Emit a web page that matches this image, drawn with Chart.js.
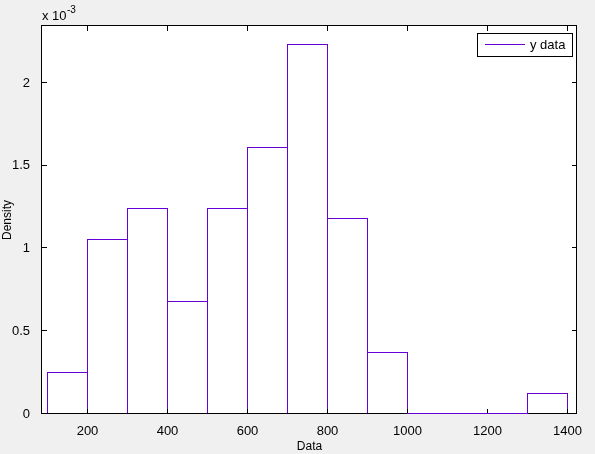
<!DOCTYPE html>
<html>
<head>
<meta charset="utf-8">
<script src="https://cdn.jsdelivr.net/npm/chart.js@4/dist/chart.umd.min.js"></script>
<style>
  html, body { margin: 0; padding: 0; background: #f0f0f0; }
  #wrap { width: 595px; height: 454px; }
</style>
</head>
<body>
<div id="wrap"><canvas id="hist" width="595" height="454"></canvas></div>
<script>
// bin centres and density (x 10^-3)
const binCenters = [150, 250, 350, 450, 550, 650, 750, 850, 950, 1050, 1150, 1250, 1350];
const density = [0.254, 1.057, 1.245, 0.683, 1.245, 1.613, 2.236, 1.184, 0.375, 0, 0, 0, 0.127];
const xTicks = [200, 400, 600, 800, 1000, 1200, 1400];
const yTicks = [0, 0.5, 1, 1.5, 2];
const seriesName = 'y data';

const purple = '#6600d4';
const font = "'Liberation Sans', Arial, sans-serif";

const frame = {
  id: 'frame',
  beforeDraw(chart) {
    const { ctx, chartArea: a } = chart;
    ctx.save();
    ctx.fillStyle = '#f0f0f0';
    ctx.fillRect(0, 0, chart.width, chart.height);
    ctx.fillStyle = '#ffffff';
    ctx.fillRect(a.left, a.top, a.right - a.left, a.bottom - a.top);
    ctx.restore();
  },
  afterDatasetsDraw(chart) {
    const { ctx, chartArea: a, scales } = chart;
    ctx.save();
    ctx.strokeStyle = '#000';
    ctx.lineWidth = 1;
    ctx.beginPath();
    for (const v of xTicks) {
      const x = Math.floor(scales.x.getPixelForValue(v)) + 0.5;
      ctx.moveTo(x, a.bottom); ctx.lineTo(x, a.bottom - 5);
      ctx.moveTo(x, a.top); ctx.lineTo(x, a.top + 5);
    }
    for (const v of yTicks) {
      const y = Math.round(scales.y.getPixelForValue(v)) - 0.5;
      ctx.moveTo(a.left, y); ctx.lineTo(a.left + 5, y);
      ctx.moveTo(a.right, y); ctx.lineTo(a.right - 5, y);
    }
    ctx.stroke();
    ctx.strokeRect(a.left - 0.5, a.top - 0.5, a.right - a.left, a.bottom - a.top);

    // empty bins show as a flat line on the baseline
    const meta = chart.getDatasetMeta(0);
    ctx.strokeStyle = purple;
    ctx.beginPath();
    meta.data.forEach((bar, i) => {
      if (density[i] === 0) {
        const y = Math.round(bar.base) - 0.5;
        ctx.moveTo(bar.x - bar.width / 2, y);
        ctx.lineTo(bar.x + bar.width / 2, y);
      }
    });
    ctx.stroke();

    // legend box
    const lx = 477, ly = 33, lw = 95, lh = 23;
    ctx.fillStyle = '#fff';
    ctx.fillRect(lx, ly, lw, lh);
    ctx.strokeStyle = '#000';
    ctx.strokeRect(lx + 0.5, ly + 0.5, lw, lh);
    ctx.strokeStyle = purple;
    ctx.beginPath();
    ctx.moveTo(485, ly + 11.5); ctx.lineTo(525, ly + 11.5);
    ctx.stroke();
    ctx.fillStyle = '#000';
    ctx.font = '13px ' + font;
    ctx.textBaseline = 'middle';
    ctx.textAlign = 'left';
    ctx.fillText(seriesName, 530, ly + 12);

    // exponent label
    ctx.textBaseline = 'alphabetic';
    ctx.fillText('x 10', 42, 20);
    ctx.font = '10px ' + font;
    ctx.fillText('-3', 67, 13);
    ctx.restore();
  }
};

new Chart(document.getElementById('hist'), {
  type: 'bar',
  data: {
    datasets: [{
      label: seriesName,
      data: binCenters.map((c, i) => ({ x: c, y: density[i] })),
      backgroundColor: '#ffffff',
      borderColor: purple,
      borderWidth: 1,
      borderSkipped: false,
      barPercentage: 1.025,
      categoryPercentage: 1
    }]
  },
  options: {
    responsive: false,
    animation: false,
    layout: { padding: { top: 26, right: 18, left: 0, bottom: 0 } },
    plugins: { legend: { display: false }, tooltip: { enabled: false } },
    scales: {
      x: {
        type: 'linear',
        offset: false,
        min: 86.25,
        max: 1423.75,
        grid: { display: false, offset: false },
        border: { display: false },
        afterBuildTicks(s) { s.ticks = xTicks.map(v => ({ value: v })); },
        afterFit(s) { s.height = 40; },
        ticks: { color: '#000', font: { family: font, size: 13 }, padding: 2, maxRotation: 0, callback: v => String(v) },
        title: { display: true, text: 'Data', color: '#000', font: { family: font, size: 12 }, padding: 0 }
      },
      y: {
        min: 0,
        max: 2.344,
        grid: { display: false },
        border: { display: false },
        afterBuildTicks(s) { s.ticks = yTicks.map(v => ({ value: v })); },
        afterFit(s) { s.width = 42; },
        ticks: { color: '#000', font: { family: font, size: 13 }, padding: 4, callback: v => String(v) },
        title: { display: true, text: 'Density', color: '#000', font: { family: font, size: 12 }, padding: 0 }
      }
    }
  },
  plugins: [frame]
});
</script>
</body>
</html>
